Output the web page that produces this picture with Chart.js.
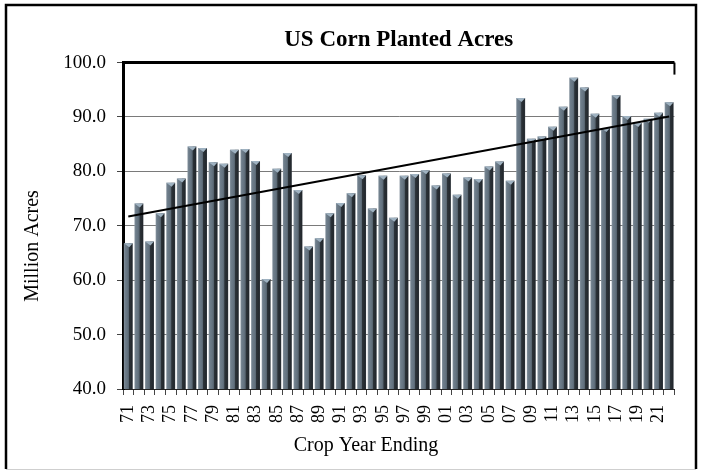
<!DOCTYPE html>
<html>
<head>
<meta charset="utf-8">
<title>US Corn Planted Acres</title>
<script src="https://cdn.jsdelivr.net/npm/chart.js@4.4.0/dist/chart.umd.min.js"></script>
<style>
    html, body { margin: 0; padding: 0; background: #fff; }
    #wrap { position: relative; width: 701px; height: 472px; }
</style>
</head>
<body>
<div id="wrap"><canvas id="cornChart" width="701" height="472"></canvas></div>
<script>
// ===== 数据 =====
const yearLabels = [
    '71', '72', '73', '74', '75', '76', '77', '78', '79', '80',
    '81', '82', '83', '84', '85', '86', '87', '88', '89', '90',
    '91', '92', '93', '94', '95', '96', '97', '98', '99', '00',
    '01', '02', '03', '04', '05', '06', '07', '08', '09', '10',
    '11', '12', '13', '14', '15', '16', '17', '18', '19', '20',
    '21', '22'
];

// 百万英亩
const plantedAcres = [
    66.8, 74.1, 67.1, 72.3, 77.9, 78.7, 84.6, 84.3, 81.7, 81.4,
    84.0, 84.1, 81.9, 60.2, 80.5, 83.4, 76.6, 66.2, 67.7, 72.3,
    74.2, 76.0, 79.3, 73.2, 79.2, 71.5, 79.2, 79.5, 80.2, 77.4,
    79.6, 75.7, 78.9, 78.6, 80.9, 81.8, 78.3, 93.5, 86.0, 86.4,
    88.2, 91.9, 97.2, 95.4, 90.6, 88.0, 94.0, 90.2, 88.9, 89.7,
    90.8, 92.7
];

// 趋势线两端
const trendPoints = [
    { x: '71', y: 71.7 },
    { x: '22', y: 90.1 }
];

const yMin = 40;
const yMax = 100;
const yStep = 10;

// ===== 样式 =====
const SERIF = "'Liberation Serif', 'DejaVu Serif', serif";
const BAR_PCT = 0.84;

// 每根柱子的横向渐变（左亮右暗）
function barFill(context) {
    const chart = context.chart;
    const xs = chart.scales && chart.scales.x;
    if (!xs || context.dataIndex === undefined) return '#5f6e7a';
    const cx = xs.getPixelForValue(context.dataIndex);
    const half = xs.width / yearLabels.length * BAR_PCT / 2;
    if (!isFinite(cx) || !isFinite(half) || half <= 0) return '#5f6e7a';
    const g = chart.ctx.createLinearGradient(cx - half, 0, cx + half, 0);
    g.addColorStop(0, '#8a97a2');
    g.addColorStop(0.14, '#6f7e8b');
    g.addColorStop(0.4, '#647380');
    g.addColorStop(0.55, '#56636e');
    g.addColorStop(0.6, '#2c3339');
    g.addColorStop(0.9, '#23282d');
    g.addColorStop(1, '#343b42');
    return g;
}

// 柱顶的小三角（3D 效果）
const barCaps = {
    id: 'barCaps',
    afterDatasetDraw(chart, args) {
        if (args.meta.type !== 'bar') return;
        const ctx = chart.ctx;
        ctx.save();
        args.meta.data.forEach(bar => {
            const { x, y, width } = bar.getProps(['x', 'y', 'width'], true);
            ctx.fillStyle = '#9fb2c1';
            ctx.beginPath();
            ctx.moveTo(x - width / 2, y);
            ctx.lineTo(x + width / 2, y);
            ctx.lineTo(x + width * 0.1, y + 4);
            ctx.closePath();
            ctx.fill();
        });
        ctx.restore();
    }
};

// 绘图区上边框 + 外框 + 坐标轴标题
const frames = {
    id: 'frames',
    afterDraw(chart) {
        const ctx = chart.ctx;
        const a = chart.chartArea;
        ctx.save();
        // 绘图区上边 / 右上
        ctx.strokeStyle = '#000';
        ctx.lineWidth = 3;
        ctx.beginPath();
        ctx.moveTo(a.left - 1, a.top);
        ctx.lineTo(a.right, a.top);
        ctx.stroke();
        ctx.lineWidth = 2;
        ctx.beginPath();
        ctx.moveTo(a.right, a.top);
        ctx.lineTo(a.right, a.top + 12);
        ctx.stroke();

        // 外框
        ctx.lineWidth = 2.5;
        ctx.beginPath();
        ctx.moveTo(6, 469);
        ctx.lineTo(6, 5);
        ctx.lineTo(696, 5);
        ctx.lineTo(696, 469);
        ctx.stroke();
        ctx.strokeStyle = '#cfcfcf';
        ctx.lineWidth = 1;
        ctx.beginPath();
        ctx.moveTo(6, 469.5);
        ctx.lineTo(696, 469.5);
        ctx.stroke();

        // 坐标轴标题
        ctx.fillStyle = '#000';
        ctx.font = `20px ${SERIF}`;
        ctx.textAlign = 'center';
        ctx.textBaseline = 'middle';
        ctx.fillText('Crop Year Ending', 366, 446);
        ctx.translate(33, 246);
        ctx.rotate(-Math.PI / 2);
        ctx.fillText('Million Acres', 0, 0);
        ctx.restore();
    }
};

document.addEventListener('DOMContentLoaded', () => {
    const canvas = document.getElementById('cornChart');

    const chart = new Chart(canvas.getContext('2d'), {
        type: 'bar',
        data: {
            labels: yearLabels,
            datasets: [
                {
                    type: 'line',
                    label: 'Trend',
                    data: trendPoints,
                    borderColor: '#000',
                    borderWidth: 2,
                    pointRadius: 0,
                    fill: false,
                    order: 0
                },
                {
                    type: 'bar',
                    label: 'Planted Acres',
                    data: plantedAcres,
                    backgroundColor: barFill,
                    borderWidth: 0,
                    barPercentage: BAR_PCT,
                    categoryPercentage: 1.0,
                    order: 1
                }
            ]
        },
        options: {
            responsive: false,
            animation: false,
            layout: { padding: { left: 0, right: 19, top: 0, bottom: 0 } },
            plugins: {
                legend: { display: false },
                tooltip: { enabled: false },
                title: {
                    display: true,
                    text: 'US Corn Planted Acres',
                    fullSize: false,
                    color: '#000',
                    font: { family: SERIF, size: 23, weight: 'bold', lineHeight: 1.2 },
                    padding: { top: 26, bottom: 9 }
                }
            },
            scales: {
                x: {
                    afterFit: (scale) => { scale.height = 83; },
                    grid: {
                        offset: true,
                        drawOnChartArea: false,
                        drawTicks: true,
                        tickLength: 6,
                        color: '#444'
                    },
                    border: { display: true, color: '#222', width: 1 },
                    ticks: {
                        autoSkip: false,
                        maxRotation: 90,
                        minRotation: 90,
                        padding: 10,
                        color: '#000',
                        font: { family: SERIF, size: 18 },
                        callback: (value, index) => (index % 2 === 0 ? yearLabels[index] : '')
                    }
                },
                y: {
                    min: yMin,
                    max: yMax,
                    afterFit: (scale) => { scale.width = 123; },
                    grid: {
                        color: '#7a7a7a',
                        lineWidth: 1,
                        tickLength: 6,
                        tickColor: '#444'
                    },
                    border: { display: true, color: '#000', width: 3 },
                    ticks: {
                        stepSize: yStep,
                        padding: 11,
                        color: '#000',
                        font: { family: SERIF, size: 19 },
                        callback: (value) => Number(value).toFixed(1)
                    }
                }
            }
        },
        plugins: [barCaps, frames]
    });

    // 布局完成后再更新一次，让渐变拿到正确的柱子位置
    chart.update();
});
</script>
</body>
</html>
